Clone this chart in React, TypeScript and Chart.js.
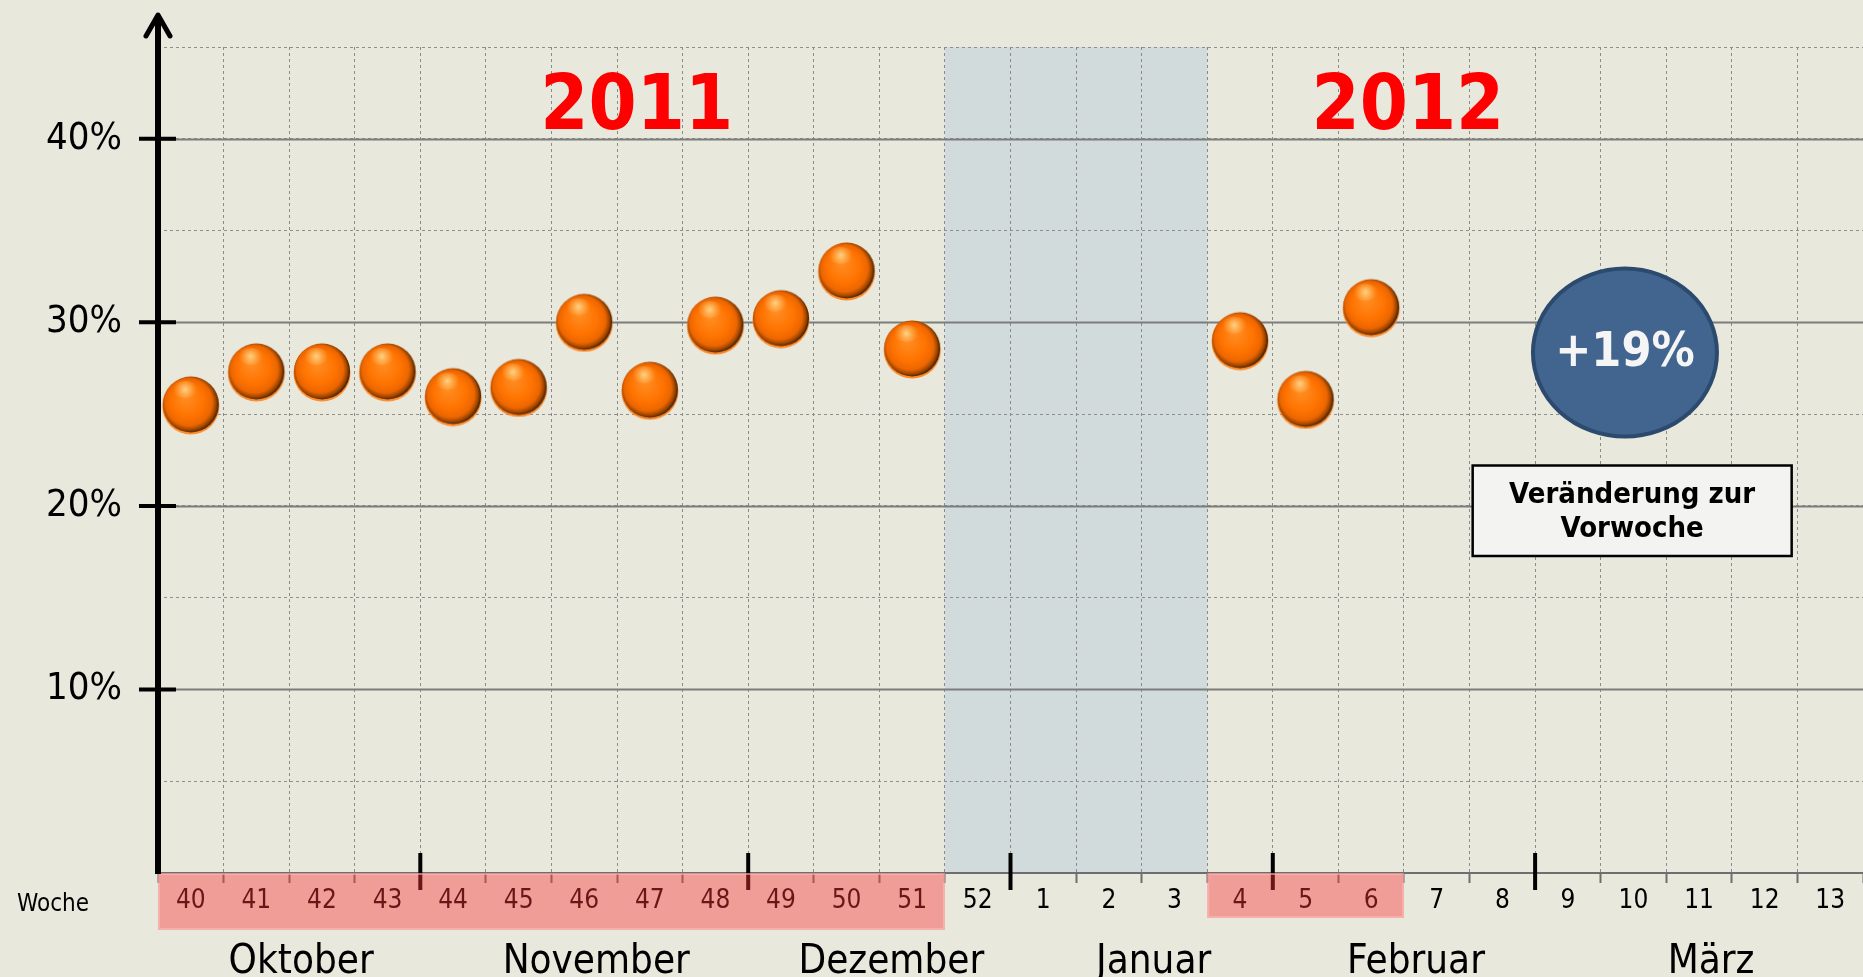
import React, { useEffect, useRef } from 'react';
import { Chart, registerables } from 'chart.js';

Chart.register(...registerables);

// ---------- data ----------
const weeks = ['40', '41', '42', '43', '44', '45', '46', '47', '48', '49', '50', '51', '52', '1', '2', '3', '4', '5', '6', '7', '8', '9', '10', '11', '12', '13'];
const shares = [25.5, 27.3, 27.3, 27.3, 25.95, 26.45, 30.0, 26.3, 29.85, 30.2, 32.8, 28.55, null, null, null, null, 29.0, 25.8, 30.8, null, null, null, null, null, null, null];
const yLabelTicks = [10, 20, 30, 40];
const months = ['Oktober', 'November', 'Dezember', 'Januar', 'Februar', 'März'];
const monthFirstWeeks = ['40', '44', '49', '1', '5', '9'];
const years = ['2011', '2012'];
const year2011Weeks = ['40', '51'];
const year2012Weeks = ['4', '6'];
const holidayWeeks = ['52', '3'];
const axisTitle = 'Woche';
const changeValue = '+19%';
const changeCaption = ['Veränderung zur', 'Vorwoche'];

// ---------- styles ----------
const BG = '#e8e8dd';
const FONT = '"DejaVu Sans Condensed", "DejaVu Sans", sans-serif';

function makeSphere(r: number): HTMLCanvasElement {
  const c = document.createElement('canvas');
  const s = Math.ceil(r * 2 + 3);
  c.width = s;
  c.height = s;
  const g = c.getContext('2d')!;
  const cx = s / 2;
  const cy = s / 2;
  g.beginPath();
  g.arc(cx, cy + 1, r, 0, Math.PI * 2);
  g.fillStyle = '#ff8a2a';
  g.fill();
  const grad = g.createRadialGradient(cx - r * 0.18, cy - r * 0.28, r * 0.05, cx - r * 0.05, cy - r * 0.05, r * 1.02);
  grad.addColorStop(0, '#ff8d22');
  grad.addColorStop(0.55, '#ff7300');
  grad.addColorStop(0.8, '#ec6600');
  grad.addColorStop(0.92, '#a04600');
  grad.addColorStop(1, '#4a2300');
  g.beginPath();
  g.arc(cx, cy - 0.5, r - 0.5, 0, Math.PI * 2);
  g.fillStyle = grad;
  g.fill();
  const hx = cx - r * 0.2;
  const hy = cy - r * 0.55;
  const hg = g.createRadialGradient(hx, hy, 0, hx, hy, r * 0.42);
  hg.addColorStop(0, 'rgba(255,222,150,0.9)');
  hg.addColorStop(1, 'rgba(255,190,100,0)');
  g.fillStyle = hg;
  g.beginPath();
  g.ellipse(hx, hy, r * 0.45, r * 0.3, 0, 0, Math.PI * 2);
  g.fill();
  return c;
}

const idx = (w: string) => weeks.indexOf(w);

const decorPlugin = {
  id: 'decor',
  beforeDraw(chart: any) {
    const { ctx, chartArea, scales } = chart;
    const x = scales.x;
    ctx.save();
    ctx.fillStyle = BG;
    ctx.fillRect(0, 0, chart.width, chart.height);
    const h0 = x.getPixelForValue(idx(holidayWeeks[0]) - 0.5);
    const h1 = x.getPixelForValue(idx(holidayWeeks[1]) + 0.5);
    ctx.fillStyle = '#d1dbdb';
    ctx.fillRect(h0, chartArea.top, h1 - h0, chartArea.bottom - chartArea.top);
    ctx.restore();
  },
  beforeDatasetsDraw(chart: any) {
    const { ctx, chartArea, scales } = chart;
    const x = scales.x;
    const y = scales.y;
    ctx.save();
    ctx.strokeStyle = '#7c7c7c';
    ctx.lineWidth = 2;
    for (const v of yLabelTicks) {
      const py = Math.round(y.getPixelForValue(v)) + 0.5;
      ctx.beginPath();
      ctx.moveTo(chartArea.left, py);
      ctx.lineTo(chartArea.right, py);
      ctx.stroke();
    }
    // year titles
    ctx.fillStyle = '#ff0000';
    ctx.font = `bold 77px ${FONT}`;
    ctx.textAlign = 'center';
    ctx.textBaseline = 'alphabetic';
    ctx.fillText(years[0], x.getPixelForValue(6.8), y.getPixelForValue(40.55));
    ctx.fillText(years[1], x.getPixelForValue(18.56), y.getPixelForValue(40.55));
    // change bubble
    const bx = x.getPixelForValue(21.87);
    const by = y.getPixelForValue(28.35);
    ctx.beginPath();
    ctx.ellipse(bx, by, 92, 84, 0, 0, Math.PI * 2);
    ctx.fillStyle = '#41658f';
    ctx.fill();
    ctx.lineWidth = 4;
    ctx.strokeStyle = '#2b4a6e';
    ctx.stroke();
    ctx.fillStyle = '#f5f5f5';
    ctx.font = `bold 48px ${FONT}`;
    ctx.textBaseline = 'middle';
    ctx.fillText(changeValue, bx, by + 1);
    // caption box
    const cx = x.getPixelForValue(21.98);
    const top = y.getPixelForValue(22.2);
    const bottom = y.getPixelForValue(17.27);
    const w = 319;
    ctx.fillStyle = '#f3f4f2';
    ctx.fillRect(cx - w / 2, top, w, bottom - top);
    ctx.lineWidth = 2.5;
    ctx.strokeStyle = '#000';
    ctx.strokeRect(cx - w / 2, top, w, bottom - top);
    ctx.fillStyle = '#000';
    ctx.font = `bold 29px ${FONT}`;
    ctx.fillText(changeCaption[0], cx, top + 30);
    ctx.fillText(changeCaption[1], cx, top + 64);
    ctx.restore();
  },
  afterDraw(chart: any) {
    const { ctx, chartArea, scales } = chart;
    const x = scales.x;
    const y = scales.y;
    const L = chartArea.left;
    const B = chartArea.bottom;
    ctx.save();
    // month boundary ticks
    ctx.strokeStyle = '#000';
    ctx.lineWidth = 4;
    for (let i = 1; i < monthFirstWeeks.length; i++) {
      const px = x.getPixelForValue(idx(monthFirstWeeks[i]) - 0.5);
      ctx.beginPath();
      ctx.moveTo(px, B - 20);
      ctx.lineTo(px, B + 17);
      ctx.stroke();
    }
    // pink overlays (semi transparent)
    const band = (a: string, b: string, h: number) => {
      const p0 = x.getPixelForValue(idx(a) - 0.5);
      const p1 = x.getPixelForValue(idx(b) + 0.5);
      ctx.fillStyle = 'rgba(250,52,56,0.42)';
      ctx.fillRect(p0, B, p1 - p0, h);
      ctx.strokeStyle = 'rgba(255,190,190,0.55)';
      ctx.lineWidth = 2;
      ctx.strokeRect(p0 + 1, B + 1, p1 - p0 - 2, h - 2);
    };
    band(year2011Weeks[0], year2011Weeks[1], 57);
    band(year2012Weeks[0], year2012Weeks[1], 45);
    // y axis line with arrow
    ctx.strokeStyle = '#000';
    ctx.lineWidth = 6;
    ctx.beginPath();
    ctx.moveTo(L, B + 1);
    ctx.lineTo(L, 16);
    ctx.stroke();
    ctx.lineWidth = 5;
    ctx.lineCap = 'round';
    ctx.lineJoin = 'round';
    ctx.beginPath();
    ctx.moveTo(L - 12, 36);
    ctx.lineTo(L, 15);
    ctx.lineTo(L + 12, 36);
    ctx.stroke();
    ctx.lineCap = 'butt';
    ctx.lineWidth = 4;
    for (const v of yLabelTicks) {
      const py = y.getPixelForValue(v);
      ctx.beginPath();
      ctx.moveTo(L - 19, py);
      ctx.lineTo(L + 18, py);
      ctx.stroke();
    }
    // month labels
    ctx.fillStyle = '#000';
    ctx.font = `40px ${FONT}`;
    ctx.textAlign = 'center';
    ctx.textBaseline = 'alphabetic';
    for (let i = 0; i < months.length; i++) {
      const s = idx(monthFirstWeeks[i]) - 0.5;
      const e = i + 1 < months.length ? idx(monthFirstWeeks[i + 1]) - 0.5 : weeks.length - 0.5;
      const px = x.getPixelForValue((s + e) / 2) + 12;
      ctx.fillText(months[i], px, 973);
    }
    ctx.font = `24px ${FONT}`;
    ctx.textAlign = 'left';
    ctx.textBaseline = 'middle';
    ctx.fillText(axisTitle, 17, 905);
    ctx.restore();
  },
};

export default function App() {
  const ref = useRef<HTMLCanvasElement | null>(null);
  useEffect(() => {
    document.body.style.margin = '0';
    document.body.style.background = BG;
    const sphere = makeSphere(28.5);
    const chart = new Chart(ref.current!, {
      type: 'line',
      data: {
        labels: weeks,
        datasets: [
          {
            data: shares as any,
            showLine: false,
            clip: false as any,
            pointStyle: sphere as any,
            pointRadius: 29,
            pointHoverRadius: 29,
            borderColor: '#ff7300',
            backgroundColor: '#ff7300',
          },
        ],
      },
      options: {
        responsive: false,
        animation: false,
        events: [],
        layout: { autoPadding: false, padding: { top: 47, right: 0, left: 0, bottom: 0 } },
        plugins: { legend: { display: false }, tooltip: { enabled: false } },
        scales: {
          x: {
            type: 'category',
            offset: true,
            grid: {
              offset: true,
              color: '#8a8a8a',
              lineWidth: 1,
              drawTicks: true,
              tickLength: 10,
              tickColor: '#6e6e6e',
              tickWidth: 2,
            },
            border: { display: true, color: '#6e6e6e', width: 2, dash: [3, 3] },
            ticks: {
              color: '#000',
              padding: 3,
              maxRotation: 0,
              autoSkip: false,
              font: { family: FONT, size: 26 },
            },
            afterFit: (s: any) => {
              s.height = 104;
              s.paddingLeft = 0;
              s.paddingRight = 0;
            },
          },
          y: {
            min: 0,
            max: 45,
            grid: { color: '#8f8f8f', lineWidth: 1, drawTicks: false },
            border: { display: false, dash: [3, 3] },
            ticks: {
              stepSize: 5,
              padding: 36,
              color: '#000',
              font: { family: FONT, size: 38 },
              callback: (v: any) => (yLabelTicks.includes(Number(v)) ? `${v}%` : ''),
            },
            afterFit: (s: any) => {
              s.width = 158;
              s.paddingTop = 0;
              s.paddingBottom = 0;
            },
          },
        },
      },
      plugins: [decorPlugin],
    });
    return () => chart.destroy();
  }, []);
  return (
    <div style={{ width: 1863, height: 977 }}>
      <canvas ref={ref} width={1863} height={977} style={{ display: 'block' }} />
    </div>
  );
}
